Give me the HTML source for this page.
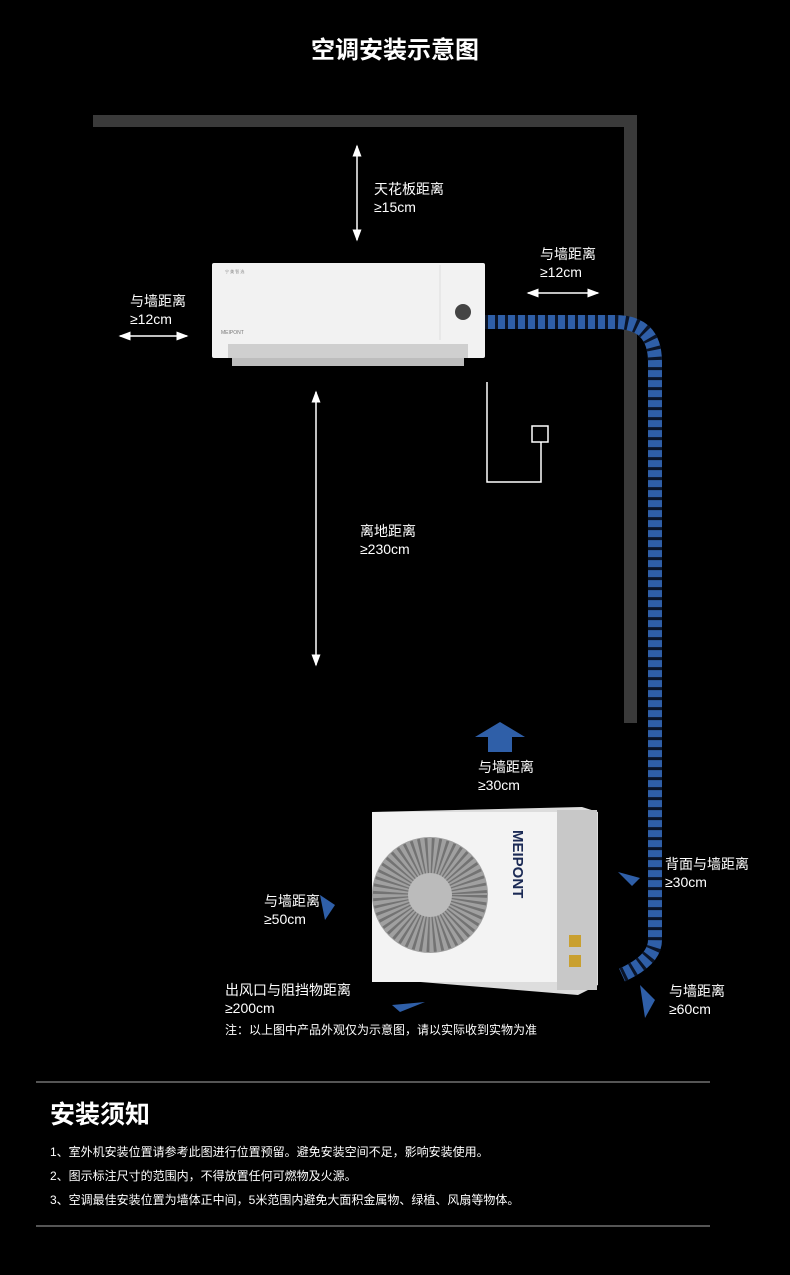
<!DOCTYPE html>
<html><head><meta charset="utf-8"><style>
body{margin:0;background:#000;}
#c{position:relative;width:790px;height:1275px;background:#000;overflow:hidden;font-family:"Liberation Sans","Noto Sans CJK SC",sans-serif;color:#fff;}
.t{position:absolute;font-size:14px;line-height:18px;white-space:nowrap;}
</style></head><body><div id="c">
<svg width="790" height="1275" style="position:absolute;left:0;top:0">
<defs>
<marker id="a" markerWidth="8" markerHeight="8" refX="7" refY="4" orient="auto-start-reverse"><path d="M0,1 L8,4 L0,7z" fill="#fff"/></marker>
</defs>
<rect x="93" y="115" width="544" height="12" fill="#3a3a3a"/>
<rect x="624" y="115" width="13" height="608" fill="#3a3a3a"/>
<path d="M485,322 L615,322 Q655,322 655,362 L655,940 Q655,960 622,975" fill="none" stroke="#2f5fa8" stroke-width="14"/>
<path d="M485,322 L615,322 Q655,322 655,362 L655,940 Q655,960 622,975" fill="none" stroke="#0a1428" stroke-width="14" stroke-dasharray="3 7"/>
<line x1="357" y1="146" x2="357" y2="240" stroke="#fff" stroke-width="1.5" marker-start="url(#a)" marker-end="url(#a)"/>
<line x1="528" y1="293" x2="598" y2="293" stroke="#fff" stroke-width="1.5" marker-start="url(#a)" marker-end="url(#a)"/>
<line x1="120" y1="336" x2="187" y2="336" stroke="#fff" stroke-width="1.5" marker-start="url(#a)" marker-end="url(#a)"/>
<line x1="316" y1="392" x2="316" y2="665" stroke="#fff" stroke-width="1.5" marker-start="url(#a)" marker-end="url(#a)"/>
<polyline points="487,382 487,482 541,482 541,442" fill="none" stroke="#fff" stroke-width="1.5"/>
<rect x="532" y="426" width="16" height="16" fill="none" stroke="#fff" stroke-width="1.5"/>
<rect x="212" y="263" width="273" height="95" rx="2" fill="#f2f2f2"/>
<line x1="440" y1="265" x2="440" y2="340" stroke="#ddd"/>
<rect x="228" y="344" width="240" height="14" fill="#cfcfcf"/>
<rect x="232" y="358" width="232" height="8" fill="#bdbdbd"/>
<circle cx="463" cy="312" r="8" fill="#444"/>
<text x="225" y="273" font-size="4" fill="#888">宁 美 智 选</text>
<text x="221" y="334" font-size="5" fill="#777">MEIPONT</text>
<path d="M475,737 L500,722 L525,737 L512,737 L512,752 L488,752 L488,737z" fill="#2f5fa8"/>
<polygon points="372,812 582,807 598,812 598,985 578,995 372,978" fill="#ddd"/>
<rect x="372" y="812" width="185" height="170" fill="#f3f3f3"/>
<rect x="557" y="810" width="40" height="180" fill="#c8c8c8"/>
<circle cx="430" cy="895" r="58" fill="#a0a0a0"/>
<circle cx="430" cy="895" r="38" fill="none" stroke="#555" stroke-width="38" stroke-dasharray="2 3" opacity="0.6"/>
<circle cx="430" cy="895" r="22" fill="#bbb"/>
<text transform="translate(513,830) rotate(90)" font-size="15" font-weight="bold" fill="#1b2a55" font-family="Liberation Sans">MEIPONT</text>
<rect x="569" y="935" width="12" height="12" fill="#c9a030"/>
<rect x="569" y="955" width="12" height="12" fill="#c9a030"/>
<path d="M618,872 L640,878 L632,886z" fill="#2f5fa8"/>
<path d="M320,895 L335,905 L325,920z" fill="#2f5fa8"/>
<path d="M392,1005 L425,1002 L400,1012z" fill="#2f5fa8"/>
<path d="M640,985 L655,1000 L645,1018z" fill="#2f5fa8"/>
<line x1="36" y1="1082" x2="710" y2="1082" stroke="#aaa"/>
<line x1="36" y1="1226" x2="710" y2="1226" stroke="#aaa"/>
</svg>
<div class="t" style="left:0;width:790px;text-align:center;top:36px;font-size:24px;line-height:30px;font-weight:bold">空调安装示意图</div>
<div class="t" style="left:374px;top:180px">天花板距离<br>≥15cm</div>
<div class="t" style="left:540px;top:245px">与墙距离<br>≥12cm</div>
<div class="t" style="left:130px;top:292px">与墙距离<br>≥12cm</div>
<div class="t" style="left:360px;top:522px">离地距离<br>≥230cm</div>
<div class="t" style="left:478px;top:758px">与墙距离<br>≥30cm</div>
<div class="t" style="left:665px;top:855px">背面与墙距离<br>≥30cm</div>
<div class="t" style="left:264px;top:892px">与墙距离<br>≥50cm</div>
<div class="t" style="left:669px;top:982px">与墙距离<br>≥60cm</div>
<div class="t" style="left:225px;top:981px">出风口与阻挡物距离<br>≥200cm</div>
<div class="t" style="left:225px;top:1021px;font-size:12px">注：以上图中产品外观仅为示意图，请以实际收到实物为准</div>
<div class="t" style="left:50px;top:1099px;font-size:25px;line-height:32px;font-weight:bold">安装须知</div>
<div class="t" style="left:50px;top:1143px;font-size:12px">1、室外机安装位置请参考此图进行位置预留。避免安装空间不足，影响安装使用。</div>
<div class="t" style="left:50px;top:1167px;font-size:12px">2、图示标注尺寸的范围内，不得放置任何可燃物及火源。</div>
<div class="t" style="left:50px;top:1191px;font-size:12px">3、空调最佳安装位置为墙体正中间，5米范围内避免大面积金属物、绿植、风扇等物体。</div>
</div></body></html>
